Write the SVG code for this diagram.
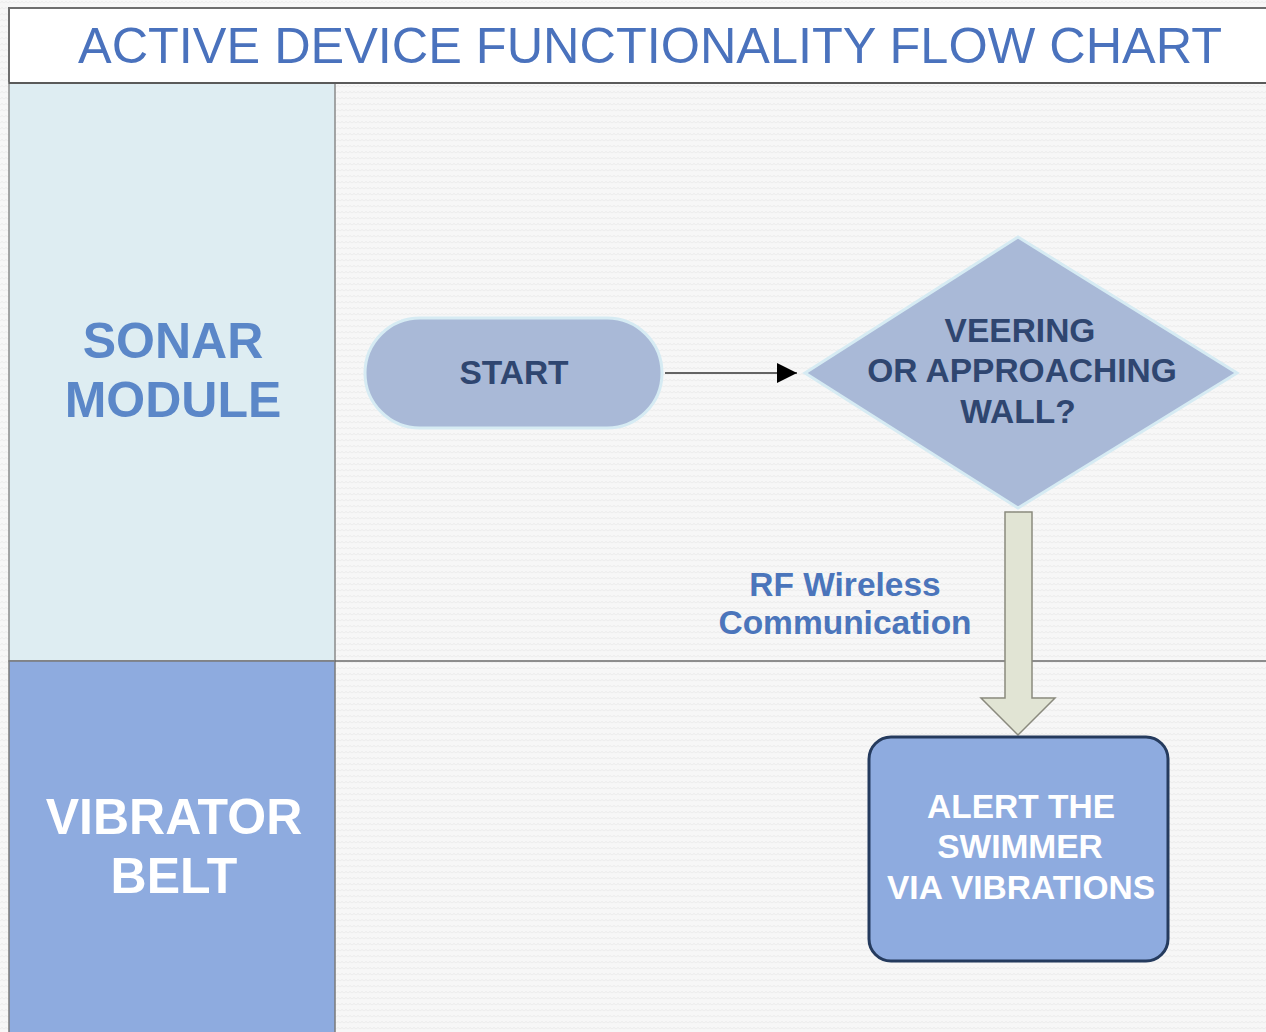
<svg xmlns="http://www.w3.org/2000/svg" width="1266" height="1032" viewBox="0 0 1266 1032">
<defs>
<pattern id="wave" width="8" height="6" patternUnits="userSpaceOnUse">
<rect width="8" height="6" fill="#f7f7f7"/>
<path d="M0 3 L2 1.5 L4 3 L6 1.5 L8 3" fill="none" stroke="#e9e9e9" stroke-width="0.8"/>
</pattern>
<marker id="tri" viewBox="0 0 10 10" refX="10" refY="5" markerWidth="20" markerHeight="20" markerUnits="userSpaceOnUse" orient="auto">
<path d="M0 0 L10 5 L0 10 Z" fill="#000"/>
</marker>
</defs>
<style>
.lbl{font-family:"Liberation Sans",Arial,sans-serif;font-weight:bold;text-anchor:middle}
.dark{fill:#2f4670;font-size:33.5px}
.white{fill:#ffffff;font-size:33.5px}
.lane{font-size:50px}
.title{font-family:"Liberation Sans",Arial,sans-serif;font-size:50px;fill:#4a72bd}
</style>
<rect width="1266" height="1032" fill="url(#wave)"/>
<g id="frame">
<rect x="9" y="8" width="1270" height="75" fill="#ffffff" stroke="#6e6e6e" stroke-width="2"/>
<text class="title" x="78" y="63" textLength="1144" lengthAdjust="spacingAndGlyphs">ACTIVE DEVICE FUNCTIONALITY FLOW CHART</text>
</g>
<g id="lane-sonar">
<rect x="9" y="83" width="326" height="578" fill="#deedf2" stroke="#8a8a8a" stroke-width="1.5"/>
<text class="lbl lane" x="173" y="358" fill="#5b87c8">SONAR</text>
<text class="lbl lane" x="173" y="417" fill="#5b87c8">MODULE</text>
</g>
<g id="lane-vibrator">
<rect x="9" y="661" width="326" height="380" fill="#8eabdf" stroke="#7a7a7a" stroke-width="1.5"/>
<text class="lbl lane" x="174" y="834" fill="#ffffff">VIBRATOR</text>
<text class="lbl lane" x="174" y="893" fill="#ffffff">BELT</text>
</g>
<line x1="9" y1="83" x2="1266" y2="83" stroke="#5a5a5a" stroke-width="2"/>
<line x1="335" y1="661" x2="1266" y2="661" stroke="#6a6a6a" stroke-width="1.5"/>
<g id="connectors">
<line x1="665" y1="373" x2="797" y2="373" stroke="#333" stroke-width="1.3" marker-end="url(#tri)"/>
<path d="M1005 512 L1032 512 L1032 698 L1055 698 L1018 735 L981 698 L1005 698 Z" fill="#e1e4d4" stroke="#8a8a7e" stroke-width="1.5"/>
<text class="lbl" x="845" y="596" fill="#4b75bb" font-size="33.5">RF Wireless</text>
<text class="lbl" x="845" y="634" fill="#4b75bb" font-size="33.5">Communication</text>
</g>
<g id="start">
<rect x="365" y="318" width="297" height="110" rx="55" fill="#a9b9d7" stroke="#d6ebf3" stroke-width="3"/>
<text class="lbl dark" x="514" y="384">START</text>
</g>
<g id="decision">
<polygon points="805,373 1018,237 1237,373 1018,508" fill="#a9b9d7" stroke="#d6ebf3" stroke-width="3"/>
<text class="lbl dark" x="1020" y="342">VEERING</text>
<text class="lbl dark" x="1022" y="382">OR APPROACHING</text>
<text class="lbl dark" x="1018" y="423">WALL?</text>
</g>
<g id="alert">
<rect x="869" y="737" width="299" height="224" rx="22" fill="#8eabdf" stroke="#253b5e" stroke-width="3"/>
<text class="lbl white" x="1021" y="818">ALERT THE</text>
<text class="lbl white" x="1020" y="858">SWIMMER</text>
<text class="lbl white" x="1021" y="899">VIA VIBRATIONS</text>
</g>
</svg>
